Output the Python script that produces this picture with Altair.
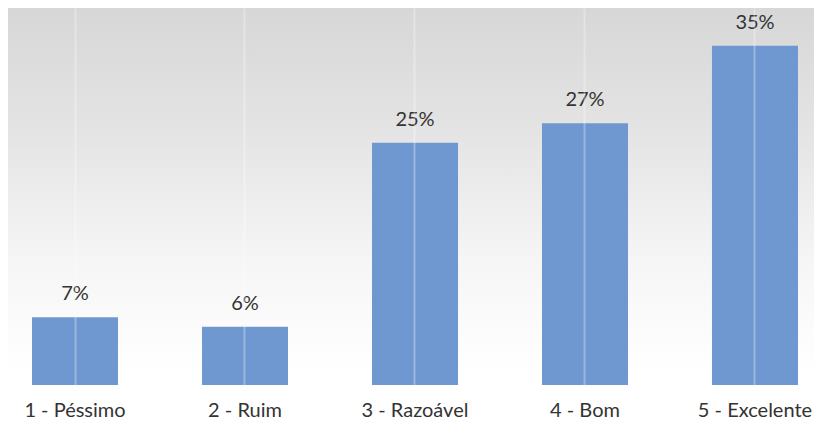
import altair as alt
import pandas as pd

categories = ["1 - Péssimo", "2 - Ruim", "3 - Razoável", "4 - Bom", "5 - Excelente"]
values = [7, 6, 25, 27, 35]
labels = ["7%", "6%", "25%", "27%", "35%"]

df = pd.DataFrame({"cat": categories, "val": values, "lab": labels})

W, H = 806, 377

bg = alt.Chart(pd.DataFrame({"a": [0]})).mark_rect(
    color=alt.Gradient(
        gradient="linear",
        stops=[
            alt.GradientStop(color="#d6d6d6", offset=0),
            alt.GradientStop(color="#e4e4e4", offset=0.3),
            alt.GradientStop(color="#f6f6f6", offset=0.6),
            alt.GradientStop(color="#ffffff", offset=0.85),
        ],
        x1=0, x2=0, y1=0, y2=1,
    )
).encode(
    x=alt.value(-8), x2=alt.value(W + 8), y=alt.value(-8), y2=alt.value(H + 54)
)

xenc = alt.X(
    "cat:N", sort=categories, title=None,
    scale=alt.Scale(paddingInner=0.494, paddingOuter=0.1176, align=0.6),
    axis=alt.Axis(
        labelAngle=0, labelFont="Lato", labelFontSize=20, labelColor="#333333",
        labelPadding=15, ticks=False, domain=False,
        grid=True, gridColor="#ffffff", gridOpacity=0.3, gridWidth=2,
        bandPosition=0.5, zindex=1,
    ),
)
yenc = alt.Y("val:Q", scale=alt.Scale(domain=[0, 38.9], nice=False), axis=None)

bars = alt.Chart(df).mark_bar(color="#6f98d0").encode(x=xenc, y=yenc)
text = alt.Chart(df).mark_text(
    dy=-13, font="Lato", fontSize=20, color="#333333", baseline="bottom"
).encode(x=alt.X("cat:N", sort=categories), y="val:Q", text="lab:N")

chart = alt.layer(bg, bars, text).properties(
    width=W, height=H,
    autosize=alt.AutoSizeParams(type="none"),
    padding={"left": 0, "top": 0, "right": 0, "bottom": 54},
).configure_view(stroke=None).configure(background="#ffffff")

chart.save("out.html", embed_options={"renderer": "svg", "actions": False})
